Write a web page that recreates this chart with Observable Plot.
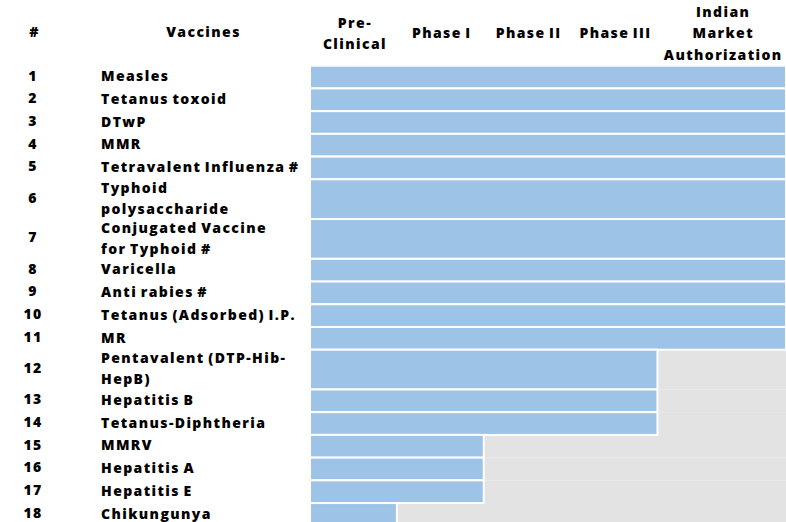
<!DOCTYPE html>
<html><head><meta charset="utf-8">
<script src="https://cdn.jsdelivr.net/npm/d3@7"></script>
<script src="https://cdn.jsdelivr.net/npm/@observablehq/plot@0.6"></script>
<style>html,body{margin:0;padding:0;overflow:hidden;background:#fff}</style>
</head><body><div id="chart"></div>
<script>
// ---- data ----
const vaccines = ["Measles","Tetanus toxoid","DTwP","MMR","Tetravalent Influenza #","Typhoid\npolysaccharide","Conjugated Vaccine\nfor Typhoid #","Varicella","Anti rabies #","Tetanus (Adsorbed) I.P.","MR","Pentavalent (DTP-Hib-\nHepB)","Hepatitis B","Tetanus-Diphtheria","MMRV","Hepatitis A","Hepatitis E","Chikungunya"];
const stagesReached = [5,5,5,5,5,5,5,5,5,5,5,4,4,4,2,2,2,1];
const phases = ["Pre-\nClinical","Phase I","Phase II","Phase III","Indian\nMarket\nAuthorization"];
const phaseSpan = [1,1,1,1,1.48];
const colHeaders = ["#","Vaccines"];

// ---- layout helpers ----
const edges = [0]; phaseSpan.forEach(s => edges.push(edges[edges.length-1] + s));
const total = edges[edges.length-1];
const phaseCols = phases.map((p,i) => ({label:p, mid:(edges[i]+edges[i+1])/2}));
let acc = 0;
const rows = vaccines.map((v,i) => {
  const lines = v.split("\n").length;
  const u = lines > 1 ? 1.75 : 1;
  const r = {n:i+1, name:v, y1:acc, y2:acc+u, mid:acc+u/2, end:edges[stagesReached[i]]};
  acc += u; return r;
});
const T = acc;
const rowUnit = 22.72, tableTop = 65.7;
const font = {fontFamily:"Open Sans", fontWeight:800, fontSize:14, fill:"#000"};

const chart = Plot.plot({
  width:786, height:522, margin:0,
  style:{overflow:"hidden", background:"#fff", letterSpacing:"1.4px", wordSpacing:"-1.5px"},
  x:{domain:[0,total], range:[310,786], axis:null},
  y:{domain:[0,T], range:[tableTop, tableTop+T*rowUnit], axis:null},
  marks:[
    Plot.rect(rows.filter(d => d.end < total), {x1:"end", x2:total, y1:"y1", y2:"y2", fill:"#e3e3e3"}),
    Plot.rect(rows, {x1:0, x2:"end", y1:"y1", y2:"y2", fill:"#9dc3e6", stroke:"#fff", strokeWidth:2}),
    Plot.text(rows, {y:"mid", text:d=>String(d.n), frameAnchor:"left", dx:32.5, dy:-1.5, textAnchor:"middle", ...font}),
    Plot.text(rows, {y:"mid", text:"name", frameAnchor:"left", dx:100.5, dy:-3, textAnchor:"start", lineHeight:1.5, ...font}),
    Plot.text(phaseCols, {x:"mid", text:"label", frameAnchor:"top", dy:31, dx:1, lineAnchor:"middle", lineHeight:1.52, ...font}),
    Plot.text([colHeaders[0]], {text:d=>d, frameAnchor:"top-left", dx:34, dy:32, lineAnchor:"middle", textAnchor:"middle", ...font}),
    Plot.text([colHeaders[1]], {text:d=>d, frameAnchor:"top-left", dx:203, dy:32, lineAnchor:"middle", textAnchor:"middle", ...font})
  ]
});
document.getElementById("chart").appendChild(chart);
</script></body></html>
